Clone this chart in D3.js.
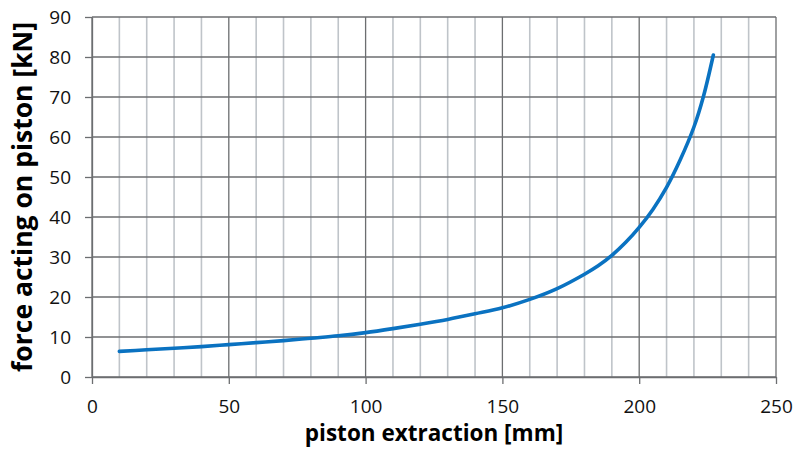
<!DOCTYPE html>
<html>
<head>
<meta charset="utf-8">
<script src="https://cdn.jsdelivr.net/npm/d3@7"></script>
<style>
  body { margin: 0; background: #fff; }
  svg { display: block; }
</style>
</head>
<body>
<div id="chart"></div>
<script>
// piston extraction [mm] and force acting on piston [kN]
var extraction = [10, 20, 30, 40, 50, 60, 70, 80, 90, 100, 110, 120, 130, 140, 150, 160, 170, 180, 185, 190, 195, 200, 205, 210, 215, 220, 223.5, 227.1];
var force = [6.4, 6.8, 7.2, 7.6, 8.1, 8.6, 9.1, 9.7, 10.3, 11.1, 12.1, 13.2, 14.4, 15.8, 17.3, 19.4, 22.1, 25.7, 27.8, 30.4, 33.6, 37.4, 41.9, 47.4, 54.3, 62.5, 70.2, 80.5];

var xTicks = [0, 50, 100, 150, 200, 250];
var xMinor = [10, 20, 30, 40, 60, 70, 80, 90, 110, 120, 130, 140, 160, 170, 180, 190, 210, 220, 230, 240];
var yTicks = [0, 10, 20, 30, 40, 50, 60, 70, 80, 90];

var width = 795, height = 457;
var margin = {top: 17, right: 19, bottom: 80, left: 92};

var svg = d3.select("#chart").append("svg")
    .attr("width", width).attr("height", height);

var x = d3.scaleLinear().domain([0, 250]).range([margin.left, width - margin.right]);
var y = d3.scaleLinear().domain([0, 90]).range([height - margin.bottom, margin.top]);

var font = "'Open Sans', sans-serif";

//minor vertical grid lines (light)
svg.append("g").selectAll("line").data(xMinor).enter().append("line")
    .attr("x1", d => x(d)).attr("x2", d => x(d))
    .attr("y1", y(0)).attr("y2", y(90))
    .attr("stroke", "#bfc4c9").attr("stroke-width", 1.6);

//major grid lines
svg.append("g").selectAll("line").data(yTicks).enter().append("line")
    .attr("x1", x(0)).attr("x2", x(250))
    .attr("y1", d => y(d)).attr("y2", d => y(d))
    .attr("stroke", "#6c6e70").attr("stroke-width", 1.3);
svg.append("g").selectAll("line").data(xTicks).enter().append("line")
    .attr("x1", d => x(d)).attr("x2", d => x(d))
    .attr("y1", y(0)).attr("y2", y(90))
    .attr("stroke", "#6c6e70").attr("stroke-width", 1.3);

//axes with outside ticks
var xAxis = svg.append("g")
    .attr("transform", "translate(0," + y(0) + ")")
    .call(d3.axisBottom(x).tickValues(xTicks).tickSize(7).tickPadding(16).tickSizeOuter(0));
var yAxis = svg.append("g")
    .attr("transform", "translate(" + x(0) + ",0)")
    .call(d3.axisLeft(y).tickValues(yTicks).tickSize(7).tickPadding(14).tickSizeOuter(0));

[xAxis, yAxis].forEach(function(a) {
    a.select(".domain").attr("stroke", "#6c6e70").attr("stroke-width", 1.3);
    a.selectAll(".tick line").attr("stroke", "#6c6e70").attr("stroke-width", 1.3);
    a.selectAll(".tick text").attr("fill", "#111").style("font-family", font).style("font-size", "19px");
});

//the curve
var pts = extraction.map((d, i) => [d, force[i]]);
var line = d3.line()
    .x(d => x(d[0])).y(d => y(d[1]))
    .curve(d3.curveCatmullRom.alpha(0.5));
svg.append("path").datum(pts)
    .attr("d", line)
    .attr("fill", "none")
    .attr("stroke", "#0a72c1")
    .attr("stroke-width", 3.6)
    .attr("stroke-linecap", "round");

//axis titles
svg.append("text")
    .attr("x", (x(0) + x(250)) / 2).attr("y", 441)
    .attr("text-anchor", "middle")
    .style("font-family", font).style("font-weight", "bold").style("font-size", "22.5px")
    .attr("fill", "#000")
    .text("piston extraction [mm]");
svg.append("text")
    .attr("transform", "translate(32," + ((y(0) + y(90)) / 2) + ") rotate(-90)")
    .attr("text-anchor", "middle")
    .style("font-family", font).style("font-weight", "bold").style("font-size", "26.5px")
    .attr("fill", "#000")
    .text("force acting on piston [kN]");
</script>
</body>
</html>
